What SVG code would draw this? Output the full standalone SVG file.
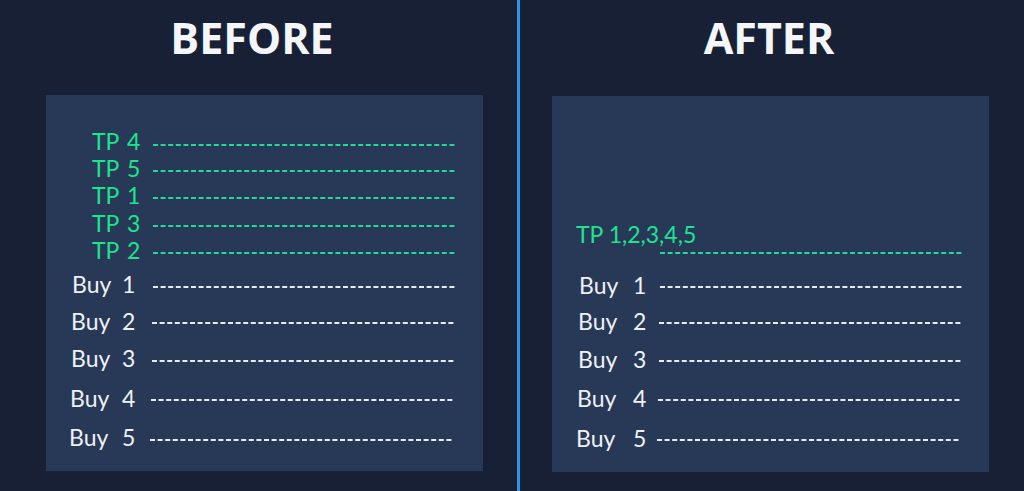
<svg xmlns="http://www.w3.org/2000/svg" width="1024" height="491" viewBox="0 0 1024 491">
<style>
.title{font-family:"Open Sans","Noto Sans",sans-serif;font-weight:700;font-size:43px;fill:#f4f6fa;text-anchor:middle}
.tp{font-family:Lato,"Liberation Sans",sans-serif;font-size:23px;fill:#1de48f}
.buy{font-family:Lato,"Liberation Sans",sans-serif;font-size:23px;fill:#eef1f5}
.panel{fill:#273957}
.dg{stroke:#22d89a;stroke-width:2.2;stroke-dasharray:5 2.6;fill:none}
.dw{stroke:#e8ecf2;stroke-width:2.2;stroke-dasharray:5 2.6;fill:none}
</style>
<rect x="0" y="0" width="1024" height="491" fill="#172034"/>
<rect x="517" y="0" width="3" height="491" fill="#3a8ee0"/>
<g id="before">
<text class="title" x="252" y="54">BEFORE</text>
<rect class="panel" x="46" y="95" width="437" height="376"/>
<g id="before-tp">
<text class="tp" x="92" y="150">TP</text><text class="tp" x="127" y="150">4</text>
<text class="tp" x="92" y="177">TP</text><text class="tp" x="127" y="177">5</text>
<text class="tp" x="92" y="204">TP</text><text class="tp" x="127" y="204">1</text>
<text class="tp" x="92" y="232">TP</text><text class="tp" x="127" y="232">3</text>
<text class="tp" x="92" y="259">TP</text><text class="tp" x="127" y="259">2</text>
</g>
<g id="before-buy">
<text class="buy" x="72" y="293">Buy</text><text class="buy" x="122" y="293">1</text>
<text class="buy" x="71" y="330">Buy</text><text class="buy" x="122" y="330">2</text>
<text class="buy" x="71" y="367">Buy</text><text class="buy" x="122" y="367">3</text>
<text class="buy" x="70" y="407">Buy</text><text class="buy" x="122" y="407">4</text>
<text class="buy" x="69" y="446">Buy</text><text class="buy" x="122" y="446">5</text>
</g>
</g>
<g id="after">
<text class="title" x="769" y="54">AFTER</text>
<rect class="panel" x="552" y="96" width="437" height="376"/>
<g id="after-tp">
<text class="tp" x="576" y="243">TP 1,2,3,4,5</text>
</g>
<g id="after-buy">
<text class="buy" x="579" y="294">Buy</text><text class="buy" x="633" y="294">1</text>
<text class="buy" x="578" y="330">Buy</text><text class="buy" x="633" y="330">2</text>
<text class="buy" x="578" y="368">Buy</text><text class="buy" x="633" y="368">3</text>
<text class="buy" x="577" y="407">Buy</text><text class="buy" x="633" y="407">4</text>
<text class="buy" x="576" y="447">Buy</text><text class="buy" x="633" y="447">5</text>
</g>
</g>
<g id="connectors">
<line class="dg" x1="153" y1="145" x2="455" y2="145"/>
<line class="dg" x1="153" y1="171" x2="455" y2="171"/>
<line class="dg" x1="153" y1="198" x2="455" y2="198"/>
<line class="dg" x1="153" y1="226" x2="455" y2="226"/>
<line class="dg" x1="153" y1="253" x2="455" y2="253"/>
<line class="dw" x1="153" y1="287" x2="455" y2="287"/>
<line class="dw" x1="152" y1="323" x2="454" y2="323"/>
<line class="dw" x1="152" y1="361" x2="454" y2="361"/>
<line class="dw" x1="151" y1="400" x2="453" y2="400"/>
<line class="dw" x1="150" y1="440" x2="452" y2="440"/>
<line class="dg" x1="660" y1="253" x2="962" y2="253"/>
<line class="dw" x1="660" y1="287" x2="962" y2="287"/>
<line class="dw" x1="659" y1="323" x2="961" y2="323"/>
<line class="dw" x1="659" y1="361" x2="961" y2="361"/>
<line class="dw" x1="658" y1="400" x2="960" y2="400"/>
<line class="dw" x1="657" y1="440" x2="959" y2="440"/>
</g>
</svg>
